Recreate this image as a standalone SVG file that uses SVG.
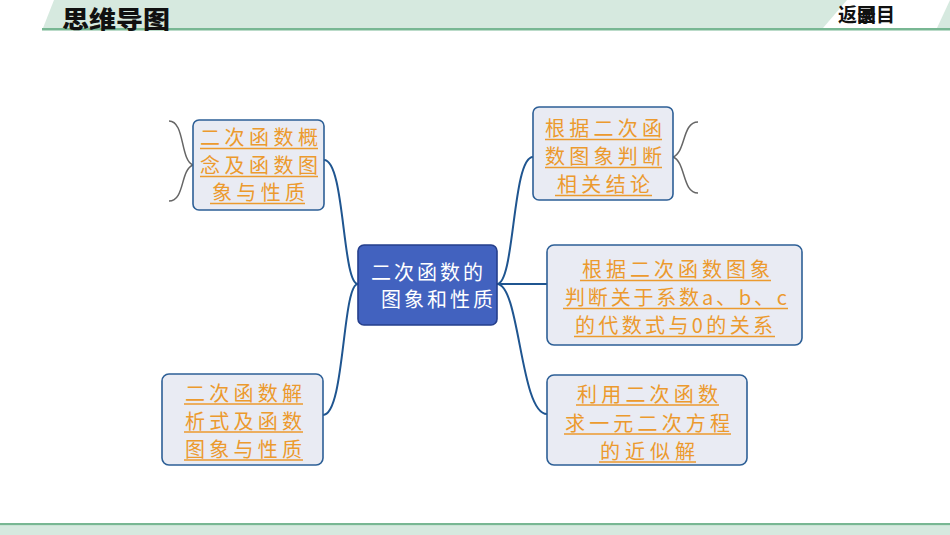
<svg xmlns="http://www.w3.org/2000/svg" width="950" height="535" viewBox="0 0 950 535">
<style>
.box{fill:#e9ebf3;stroke:#2d5f96;stroke-width:1.6}
.lbl{font-family:"Noto Sans CJK SC","Noto Sans",sans-serif;font-size:20px;fill:#ec9a2e}
.ul{stroke:#ec9a2e;stroke-width:1.5}
.con{fill:none;stroke:#1f5590;stroke-width:2}
.brace{fill:none;stroke:#666;stroke-width:1.5}
.ctr{font-family:"Noto Sans CJK SC","Noto Sans",sans-serif;font-size:20px;fill:#ffffff}
</style>
<rect width="950" height="535" fill="#ffffff"/>
<!-- header -->
<polygon points="54,0 950,0 950,28 43,28" fill="#d6e9df"/>
<polygon points="847,0 950,0 937,28 823,28" fill="#ffffff"/>
<rect x="42" y="28" width="908" height="2.5" fill="#78b793"/>
<text x="62" y="27.5" font-family="'Noto Sans CJK SC',sans-serif" font-size="24" font-weight="900" fill="#111" textLength="108" lengthAdjust="spacingAndGlyphs">思维导图</text>
<text x="838 857 876 857" y="22" font-family="'Noto Sans CJK SC',sans-serif" font-size="19" font-weight="bold" fill="#111">返回目录</text>
<!-- footer -->
<rect x="0" y="523" width="950" height="2.5" fill="#78b793"/>
<rect x="0" y="525.5" width="950" height="9.5" fill="#d6e9df"/>

<g id="connectors">
<path class="con" d="M358,284 C342,284 345,160 324,160"/>
<path class="con" d="M358,284 C342,284 345,415 323,415"/>
<path class="con" d="M497,284 C515,284 512,157 533,157"/>
<path class="con" d="M497,284 H547"/>
<path class="con" d="M497,284 C520,284 520,414 547,414"/>
<path class="brace" d="M169,121 C185,121 180,160 193,165 C180,170 185,201 169,201"/>
<path class="brace" d="M698,122 C682,122 686,152 673,157 C686,162 682,193 698,193"/>
</g>

<g id="center">
<rect x="358" y="245" width="139" height="80" rx="6" fill="#4262bf" stroke="#253f8c" stroke-width="1.6"/>
<text class="ctr" x="371" y="280" textLength="112" lengthAdjust="spacing">二次函数的</text>
<text class="ctr" x="381" y="307" textLength="112" lengthAdjust="spacing">图象和性质</text>
</g>

<g id="node1">
<rect class="box" x="193" y="120" width="131" height="90" rx="6"/>
<text class="lbl" x="200" y="145" textLength="118" lengthAdjust="spacing">二次函数概</text>
<line class="ul" x1="200" y1="148.5" x2="318" y2="148.5"/>
<text class="lbl" x="200" y="173" textLength="118" lengthAdjust="spacing">念及函数图</text>
<line class="ul" x1="200" y1="176.5" x2="318" y2="176.5"/>
<text class="lbl" x="212" y="200" textLength="93" lengthAdjust="spacing">象与性质</text>
<line class="ul" x1="210" y1="203.5" x2="305" y2="203.5"/>
</g>

<g id="node2">
<rect class="box" x="533" y="107" width="140" height="93" rx="6"/>
<text class="lbl" x="545" y="136" textLength="117" lengthAdjust="spacing">根据二次函</text>
<line class="ul" x1="545" y1="139.5" x2="662" y2="139.5"/>
<text class="lbl" x="545" y="164" textLength="117" lengthAdjust="spacing">数图象判断</text>
<line class="ul" x1="545" y1="167.5" x2="662" y2="167.5"/>
<text class="lbl" x="557" y="192" textLength="93" lengthAdjust="spacing">相关结论</text>
<line class="ul" x1="555" y1="195.5" x2="652" y2="195.5"/>
</g>

<g id="node3">
<rect class="box" x="547" y="245" width="255" height="100" rx="7"/>
<text class="lbl" x="582" y="277" textLength="188" lengthAdjust="spacing">根据二次函数图象</text>
<line class="ul" x1="580" y1="280.5" x2="771" y2="280.5"/>
<text class="lbl" x="565" y="305" textLength="222" lengthAdjust="spacing">判断关于系数a、b、c</text>
<line class="ul" x1="563" y1="308.5" x2="788" y2="308.5"/>
<text class="lbl" x="575" y="333" textLength="198" lengthAdjust="spacing">的代数式与0的关系</text>
<line class="ul" x1="574" y1="336.5" x2="775" y2="336.5"/>
</g>

<g id="node4">
<rect class="box" x="547" y="375" width="200" height="90" rx="7"/>
<text class="lbl" x="577" y="402" textLength="141" lengthAdjust="spacing">利用二次函数</text>
<line class="ul" x1="576" y1="405" x2="719" y2="405"/>
<text class="lbl" x="565" y="431" textLength="165" lengthAdjust="spacing">求一元二次方程</text>
<line class="ul" x1="564" y1="434" x2="731" y2="434"/>
<text class="lbl" x="600" y="459" textLength="95" lengthAdjust="spacing">的近似解</text>
<line class="ul" x1="599" y1="462" x2="696" y2="462"/>
</g>

<g id="node5">
<rect class="box" x="162" y="374" width="161" height="91" rx="7"/>
<text class="lbl" x="185" y="401" textLength="117" lengthAdjust="spacing">二次函数解</text>
<line class="ul" x1="184" y1="404" x2="303" y2="404"/>
<text class="lbl" x="185" y="429" textLength="117" lengthAdjust="spacing">析式及函数</text>
<line class="ul" x1="184" y1="432" x2="303" y2="432"/>
<text class="lbl" x="185" y="457" textLength="117" lengthAdjust="spacing">图象与性质</text>
<line class="ul" x1="184" y1="460" x2="303" y2="460"/>
</g>
</svg>
